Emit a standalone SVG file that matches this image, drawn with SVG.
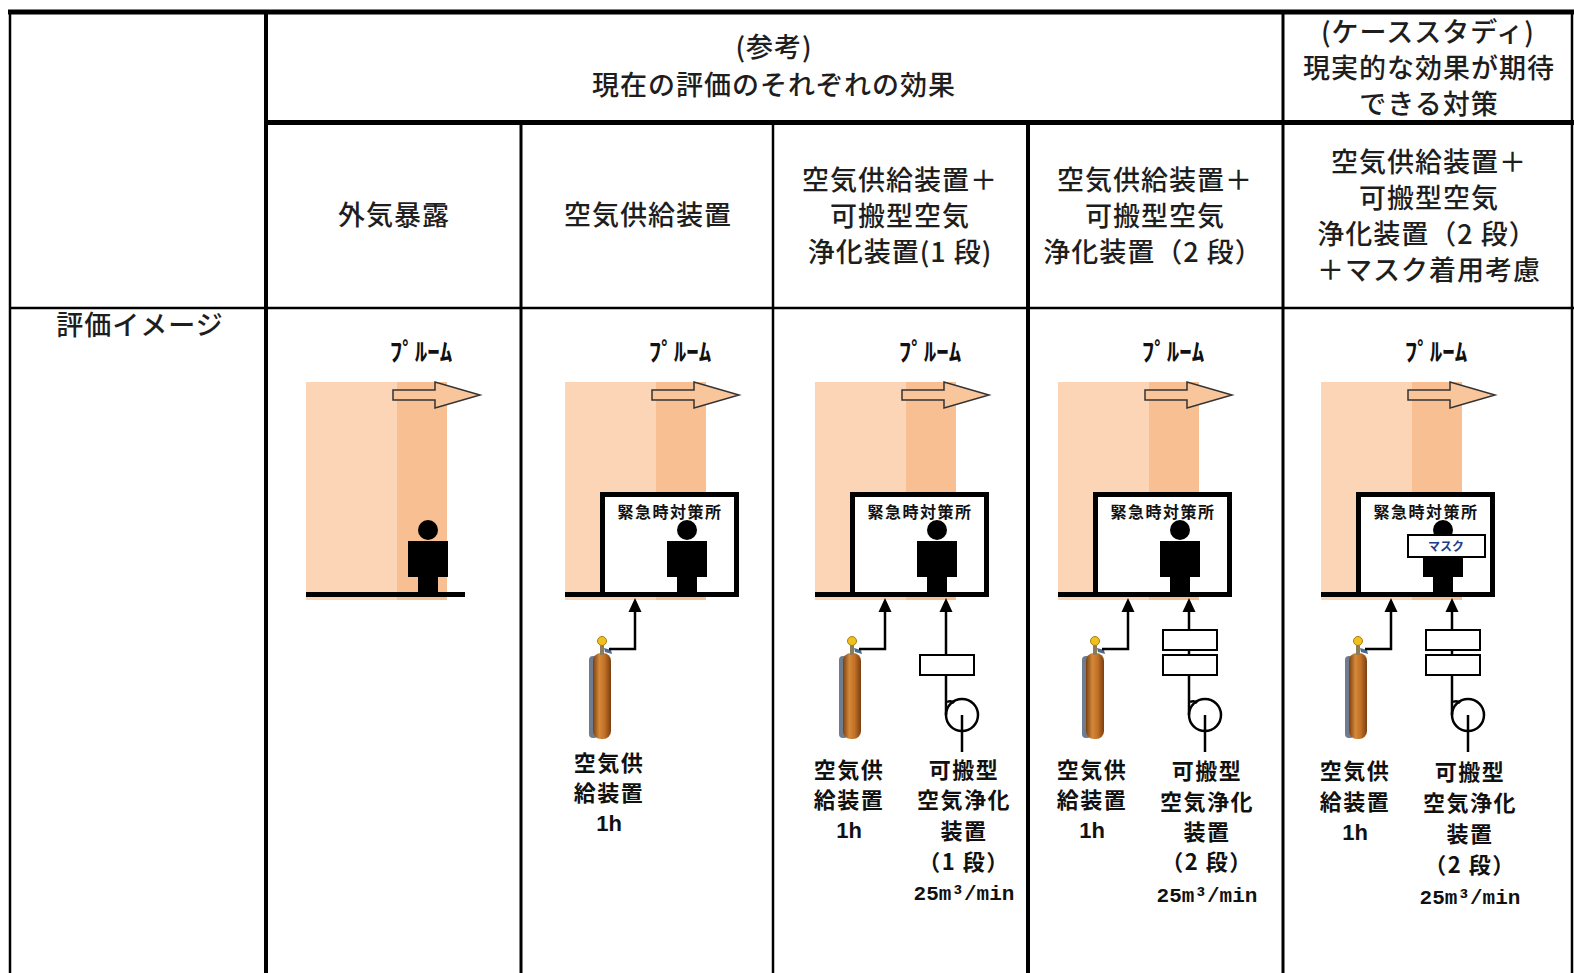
<svg xmlns="http://www.w3.org/2000/svg" xmlns:xlink="http://www.w3.org/1999/xlink" width="1574" height="973" viewBox="0 0 1574 973">
  <style>
    .hd { font-family: "Noto Sans CJK JP", "Noto Sans", sans-serif; font-size: 27px; font-weight: 500; fill: #1e1e1e; text-anchor: middle; letter-spacing: 1px; }
    .lb { font-family: "Noto Sans CJK JP", "Noto Sans", sans-serif; font-size: 22px; font-weight: 700; fill: #111; text-anchor: middle; letter-spacing: 1.5px; }
    .num { font-family: "Liberation Mono", "DejaVu Sans Mono", monospace; font-size: 21px; font-weight: 700; fill: #111; text-anchor: middle; }
    .hr { font-family: "Liberation Sans", "DejaVu Sans", sans-serif; font-size: 22px; font-weight: 700; fill: #111; text-anchor: middle; }
    .plume-t { font-family: "Noto Sans CJK JP", sans-serif; font-size: 25px; font-weight: 700; fill: #111; text-anchor: middle; }
    .bld-t { font-family: "Noto Sans CJK JP", sans-serif; font-size: 16px; font-weight: 700; fill: #111; text-anchor: middle; letter-spacing: 1.5px; }
    .grid { stroke: #000; fill: none; }
    .pipe { stroke: #000; stroke-width: 2.5; fill: none; }
    .box { stroke: #000; stroke-width: 2; fill: #fff; }
  </style>
  <defs>
    <linearGradient id="tankGrad" x1="0" y1="0" x2="1" y2="0">
      <stop offset="0" stop-color="#7A3F10"/>
      <stop offset="0.35" stop-color="#D4893A"/>
      <stop offset="0.65" stop-color="#C27026"/>
      <stop offset="1" stop-color="#7A3F10"/>
    </linearGradient>
    <!-- plume band with drift arrow (drawn in the frame of the third column) -->
    <g id="plume">
      <rect x="815" y="382" width="141" height="218" fill="#FCD5B6"/>
      <rect x="906" y="382" width="50" height="218" fill="#F8BF93"/>
      <path d="M902,390 H944 V382 L989,395 L944,408 V400 H902 Z" fill="#F9C69C" stroke="#333" stroke-width="1.5"/>
      <text class="plume-t" x="930" y="361">ﾌﾟﾙｰﾑ</text>
    </g>
    <g id="person">
      <circle cx="937" cy="530" r="10" fill="#000"/>
      <rect x="917" y="541" width="40" height="36" fill="#000"/>
      <rect x="927" y="576" width="20" height="20" fill="#000"/>
    </g>
    <g id="building">
      <rect x="815" y="592" width="38" height="5" fill="#000"/>
      <rect x="852.5" y="494.5" width="134" height="100" fill="#fff" stroke="#000" stroke-width="5"/>
      <text class="bld-t" x="920" y="518">緊急時対策所</text>
    </g>
    <g id="tank">
      <rect x="839" y="656" width="9" height="82" rx="4" fill="#56647A" opacity="0.85"/>
      <rect x="843" y="653" width="18" height="86" rx="8" fill="url(#tankGrad)"/>
      <rect x="850" y="644" width="4" height="11" fill="#8C7C58"/>
      <path d="M854,648 L861,650 L862,654 L855,652 Z" fill="#4C6A8A"/>
      <circle cx="852" cy="641" r="4.5" fill="#F0C020" stroke="#A88010" stroke-width="1"/>
    </g>
    <g id="supplyLine">
      <path class="pipe" d="M859,649 H885 V610"/>
      <polygon points="885,598 878.5,612 891.5,612" fill="#000"/>
    </g>
    <g id="fan">
      <circle cx="962" cy="715" r="16" fill="none" stroke="#000" stroke-width="2.5"/>
      <path class="pipe" d="M947,702 Q951,700 954,703" stroke-width="2"/>
      <path class="pipe" d="M962,715 V752" stroke-width="2"/>
    </g>
  </defs>

  <!-- table frame -->
  <g id="grid" class="grid">
    <line x1="8" y1="12" x2="1574" y2="12" stroke-width="5"/>
    <line x1="10" y1="10" x2="10" y2="973" stroke-width="2.5"/>
    <line x1="266" y1="10" x2="266" y2="973" stroke-width="4"/>
    <line x1="1283" y1="10" x2="1283" y2="973" stroke-width="3"/>
    <line x1="1572" y1="10" x2="1572" y2="973" stroke-width="2.5"/>
    <line x1="266" y1="122.5" x2="1574" y2="122.5" stroke-width="5"/>
    <line x1="10" y1="308" x2="1574" y2="308" stroke-width="2.5"/>
    <line x1="521" y1="122" x2="521" y2="973" stroke-width="3"/>
    <line x1="773" y1="122" x2="773" y2="973" stroke-width="2.5"/>
    <line x1="1028" y1="122" x2="1028" y2="973" stroke-width="4"/>
  </g>

  <!-- column headings -->
  <g id="head-reference">
    <text class="hd" x="774" y="57">(参考)</text>
    <text class="hd" x="774" y="95">現在の評価のそれぞれの効果</text>
  </g>
  <g id="head-casestudy">
    <text class="hd" x="1428" y="42">(ケーススタディ)</text>
    <text class="hd" x="1429" y="78">現実的な効果が期待</text>
    <text class="hd" x="1429" y="114">できる対策</text>
  </g>
  <g id="head-c1"><text class="hd" x="394" y="225">外気暴露</text></g>
  <g id="head-c2"><text class="hd" x="648" y="225">空気供給装置</text></g>
  <g id="head-c3">
    <text class="hd" x="900" y="190">空気供給装置＋</text>
    <text class="hd" x="900" y="226">可搬型空気</text>
    <text class="hd" x="900" y="262" letter-spacing="2.5">浄化装置(1 段)</text>
  </g>
  <g id="head-c4">
    <text class="hd" x="1155" y="190">空気供給装置＋</text>
    <text class="hd" x="1155" y="226">可搬型空気</text>
    <text class="hd" x="1153" y="262">浄化装置（2 段）</text>
  </g>
  <g id="head-c5">
    <text class="hd" x="1429" y="172">空気供給装置＋</text>
    <text class="hd" x="1429" y="208">可搬型空気</text>
    <text class="hd" x="1427" y="244">浄化装置（2 段）</text>
    <text class="hd" x="1429" y="280">＋マスク着用考慮</text>
  </g>
  <g id="row-label"><text class="hd" x="140" y="335">評価イメージ</text></g>

  <!-- outdoor exposure -->
  <g id="cell-c1" transform="translate(-509,0)">
    <use href="#plume"/>
    <use href="#person"/>
    <rect x="815" y="592" width="159" height="5" fill="#000"/>
  </g>

  <!-- air supply only -->
  <g id="cell-c2" transform="translate(-250,0)">
    <use href="#plume"/>
    <use href="#building"/>
    <use href="#person"/>
    <use href="#tank"/>
    <g id="c2-connectors"><use href="#supplyLine"/></g>
    <text class="lb" x="859" y="771">空気供</text>
    <text class="lb" x="859" y="801">給装置</text>
    <text class="hr" x="859" y="831">1h</text>
  </g>

  <!-- air supply + one-stage purifier -->
  <g id="cell-c3">
    <use href="#plume"/>
    <use href="#building"/>
    <use href="#person"/>
    <use href="#tank"/>
    <g id="c3-connectors">
      <use href="#supplyLine"/>
      <path class="pipe" d="M946,610 V655 M946,675 V715"/>
      <polygon points="946,598 939.5,612 952.5,612" fill="#000"/>
    </g>
    <rect class="box" x="920" y="655" width="54" height="20"/>
    <use href="#fan"/>
    <text class="lb" x="849" y="778">空気供</text>
    <text class="lb" x="849" y="808">給装置</text>
    <text class="hr" x="849" y="838">1h</text>
    <text class="lb" x="964" y="778">可搬型</text>
    <text class="lb" x="964" y="808">空気浄化</text>
    <text class="lb" x="964" y="839">装置</text>
    <text class="lb" x="964" y="870">（1 段）</text>
    <text class="num" x="964" y="900">25m³/min</text>
  </g>

  <!-- air supply + two-stage purifier -->
  <g id="cell-c4" transform="translate(243,0)">
    <use href="#plume"/>
    <use href="#building"/>
    <use href="#person"/>
    <use href="#tank"/>
    <g id="c4-connectors">
      <use href="#supplyLine"/>
      <path class="pipe" d="M946,610 V630 M946,650 V655 M946,675 V715"/>
      <polygon points="946,598 939.5,612 952.5,612" fill="#000"/>
    </g>
    <rect class="box" x="920" y="630" width="54" height="20"/>
    <rect class="box" x="920" y="655" width="54" height="20"/>
    <use href="#fan"/>
    <text class="lb" x="849" y="778">空気供</text>
    <text class="lb" x="849" y="808">給装置</text>
    <text class="hr" x="849" y="838">1h</text>
    <text class="lb" x="964" y="779">可搬型</text>
    <text class="lb" x="964" y="810">空気浄化</text>
    <text class="lb" x="964" y="840">装置</text>
    <text class="lb" x="964" y="870">（2 段）</text>
    <text class="num" x="964" y="902">25m³/min</text>
  </g>

  <!-- two-stage purifier with masks -->
  <g id="cell-c5" transform="translate(506,0)">
    <use href="#plume"/>
    <use href="#building"/>
    <use href="#person"/>
    <rect x="902" y="535" width="77" height="22" fill="#fff" stroke="#000" stroke-width="2"/>
    <text x="940" y="551" font-family="Noto Sans CJK JP, sans-serif" font-size="12" font-weight="700" fill="#1E3C8C" text-anchor="middle">マスク</text>
    <use href="#tank"/>
    <g id="c5-connectors">
      <use href="#supplyLine"/>
      <path class="pipe" d="M946,610 V630 M946,650 V655 M946,675 V715"/>
      <polygon points="946,598 939.5,612 952.5,612" fill="#000"/>
    </g>
    <rect class="box" x="920" y="630" width="54" height="20"/>
    <rect class="box" x="920" y="655" width="54" height="20"/>
    <use href="#fan"/>
    <text class="lb" x="849" y="779">空気供</text>
    <text class="lb" x="849" y="810">給装置</text>
    <text class="hr" x="849" y="840">1h</text>
    <text class="lb" x="964" y="780">可搬型</text>
    <text class="lb" x="964" y="811">空気浄化</text>
    <text class="lb" x="964" y="842">装置</text>
    <text class="lb" x="964" y="873">（2 段）</text>
    <text class="num" x="964" y="904">25m³/min</text>
  </g>
</svg>
